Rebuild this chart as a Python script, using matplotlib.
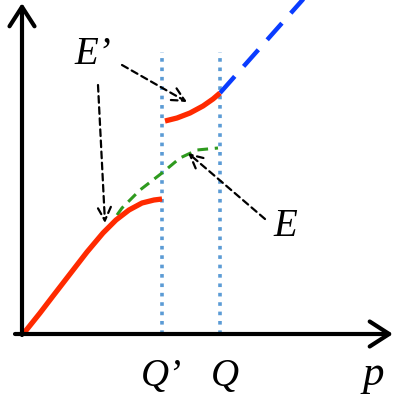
import matplotlib
matplotlib.use("Agg")
import matplotlib.pyplot as plt
import numpy as np

# Data
red_low_x = [0, 16, 29, 46, 63, 79, 92, 105, 118, 130, 138]
red_low_y = [0, 20, 37, 59, 81, 100, 113, 123, 130, 133, 134]
green_x = [93, 98, 116, 138, 156, 173, 194]
green_y = [118, 125, 143, 160, 175, 183, 185]
red_high_x = [141, 153, 166, 179, 189, 196]
red_high_y = [212, 215, 220, 227, 234, 240]
blue_x = [196, 290]
blue_y = [240, 346]
q_prime = 138
q = 196
tick_labels = ["Q\u2019", "Q"]

fig = plt.figure(figsize=(4.0, 4.01), dpi=100)
ax = fig.add_axes([0, 0, 1, 1])
ax.set_xlim(-24, 376)
ax.set_ylim(-68, 333)
ax.axis("off")

serif = ["Liberation Serif", "DejaVu Serif"]

# vertical dotted lines
for xv in (q_prime, q):
    ax.plot([xv, xv], [-1, 281], color="#5b9bd5", lw=2.6,
            linestyle=(0, (1.0, 1.6)), solid_capstyle="butt", zorder=1)

# curves
ax.plot(green_x, green_y, color="#2e9a1e", lw=2.2, linestyle=(0, (3.5, 2.2)), zorder=2)
ax.plot(red_low_x, red_low_y, color="#ff2a00", lw=3.8, solid_capstyle="butt",
        solid_joinstyle="round", zorder=3)
ax.plot(red_high_x, red_high_y, color="#ff2a00", lw=3.8, solid_capstyle="butt",
        solid_joinstyle="round", zorder=3)
ax.plot(blue_x, blue_y, color="#0a3cff", lw=3.2, linestyle=(0, (5, 3)), zorder=2)

# axes arrows
ax.annotate("", xy=(-2, 330), xytext=(-2, -2),
            arrowprops=dict(arrowstyle="->,head_length=0.7,head_width=0.45",
                            lw=3, color="black", mutation_scale=20, shrinkA=0, shrinkB=0))
ax.annotate("", xy=(369, -1), xytext=(-9, -1),
            arrowprops=dict(arrowstyle="->,head_length=0.7,head_width=0.45",
                            lw=3, color="black", mutation_scale=20, shrinkA=0, shrinkB=0))

# pointer arrows
arr = dict(arrowstyle="->,head_length=0.6,head_width=0.3", lw=1.6, color="black",
           linestyle=(0, (3, 2)), mutation_scale=16, shrinkA=0, shrinkB=0)
ax.annotate("", xy=(163, 231), xytext=(98, 268), arrowprops=arr)
ax.annotate("", xy=(81, 110), xytext=(74, 248), arrowprops=arr)
ax.annotate("", xy=(164, 180), xytext=(241, 114), arrowprops=arr)

# labels
ax.text(69, 278, "E\u2019", fontsize=28, style="italic", family=serif, ha="center", va="center")
ax.text(261, 106, "E", fontsize=28, style="italic", family=serif, ha="center", va="center")
ax.text(q_prime - 1, -44, tick_labels[0], fontsize=28, style="italic", family=serif, ha="center", va="center")
ax.text(q + 5, -44, tick_labels[1], fontsize=28, style="italic", family=serif, ha="center", va="center")
ax.text(349, -42, "p", fontsize=31, style="italic", family=serif, ha="center", va="center")

fig.savefig("out.png", dpi=100)
